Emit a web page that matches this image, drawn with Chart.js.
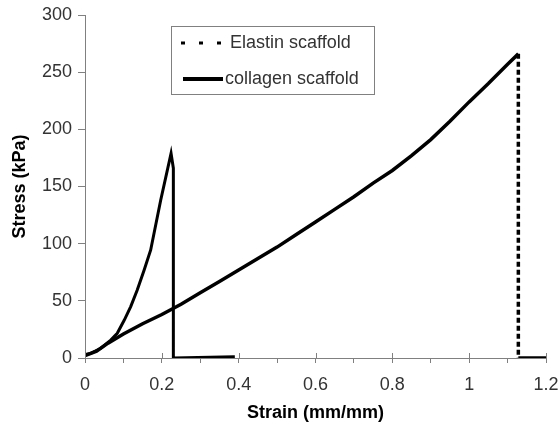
<!DOCTYPE html>
<html>
<head>
<meta charset="utf-8">
<script src="https://cdn.jsdelivr.net/npm/chart.js@4"></script>
<style>
  html, body { margin: 0; padding: 0; background: #fff; }
  #wrap { width: 558px; height: 427px; position: relative; }
</style>
</head>
<body>
<div id="wrap"><canvas id="stressChart"></canvas></div>
<script>
// stress-strain readings (strain in mm/mm, stress in kPa)
const elastinStrain = [0, 0.03, 0.06, 0.1, 0.15, 0.2, 0.25, 0.3, 0.35, 0.4, 0.45, 0.5, 0.55, 0.6, 0.65, 0.7, 0.75, 0.8, 0.85, 0.9, 0.95, 1.0, 1.05, 1.1, 1.128, 1.128, 1.2];
const elastinStress = [2, 6, 13, 21, 30, 38, 47, 57, 67, 77, 87, 97, 108, 119, 130, 141, 153, 164, 177, 191, 207, 224, 240, 257, 266, 0, 0];

const collagenStrain = [0, 0.015, 0.041, 0.067, 0.084, 0.102, 0.119, 0.136, 0.154, 0.171, 0.197, 0.224, 0.23, 0.23, 0.39];
const collagenStress = [3, 4, 8.5, 15.7, 21.6, 33, 45, 59.5, 77, 94.5, 138, 179, 166, 0, 1];

const strainTicks = [0, 0.2, 0.4, 0.6, 0.8, 1, 1.2];
const strainMinorTicks = [0.1, 0.3, 0.5, 0.7, 0.9, 1.1];
const stressTicks = [0, 50, 100, 150, 200, 250, 300];

const seriesLabels = ['Elastin scaffold', 'collagen scaffold'];

const FONT = 'Liberation Sans, Arial, sans-serif';
const AXIS_GREY = '#808080';

function toPoints(xs, ys) {
    return xs.map((x, i) => ({ x: x, y: ys[i] }));
}

// boxed legend sitting inside the plot, plus the upward half of the major strain ticks
const boxLegend = {
    id: 'boxLegend',
    afterDraw(chart) {
        const ctx = chart.ctx;
        const x0 = 171.5, y0 = 26.5, w = 203, h = 68;
        ctx.save();
        ctx.fillStyle = '#fff';
        ctx.fillRect(x0, y0, w, h);
        ctx.strokeStyle = AXIS_GREY;
        ctx.lineWidth = 1;
        ctx.strokeRect(x0, y0, w, h);

        ctx.strokeStyle = '#000';
        // dashed sample
        ctx.lineWidth = 3;
        ctx.setLineDash([4, 14]);
        ctx.beginPath();
        ctx.moveTo(181, 43);
        ctx.lineTo(223, 43);
        ctx.stroke();
        // solid sample
        ctx.setLineDash([]);
        ctx.lineWidth = 4;
        ctx.beginPath();
        ctx.moveTo(183, 79);
        ctx.lineTo(223, 79);
        ctx.stroke();

        ctx.fillStyle = '#333';
        ctx.font = '18px ' + FONT;
        ctx.textBaseline = 'middle';
        ctx.fillText(chart.data.datasets[0].label, 230, 43);
        ctx.fillText(chart.data.datasets[1].label, 225, 79);

        // major x ticks cross the axis line
        const xs = chart.scales.x;
        const bottom = chart.chartArea.bottom;
        ctx.strokeStyle = AXIS_GREY;
        ctx.lineWidth = 1;
        strainTicks.forEach(v => {
            const px = Math.round(xs.getPixelForValue(v)) + 0.5;
            ctx.beginPath();
            ctx.moveTo(px, bottom);
            ctx.lineTo(px, bottom - 5);
            ctx.stroke();
        });
        ctx.restore();
    }
};

new Chart(document.getElementById('stressChart'), {
    type: 'scatter',
    data: {
        datasets: [
            {
                label: seriesLabels[0],
                data: toPoints(elastinStrain, elastinStress),
                showLine: true,
                borderColor: '#000',
                borderWidth: 3.5,
                borderDash: [5, 3],
                pointRadius: 0,
                tension: 0,
                // only the vertical failure drop is dashed
                segment: {
                    borderDash: c => (c.p0.parsed.x === c.p1.parsed.x ? undefined : [])
                }
            },
            {
                label: seriesLabels[1],
                data: toPoints(collagenStrain, collagenStress),
                showLine: true,
                borderColor: '#000',
                borderWidth: 3,
                pointRadius: 0,
                tension: 0
            }
        ]
    },
    options: {
        responsive: true,
        maintainAspectRatio: false,
        animation: false,
        layout: { padding: { top: 15, right: 12, left: 0, bottom: 0 } },
        plugins: {
            legend: { display: false },
            tooltip: { enabled: false }
        },
        scales: {
            x: {
                type: 'linear',
                min: 0,
                max: 1.2,
                afterBuildTicks: scale => {
                    scale.ticks = strainTicks.concat(strainMinorTicks)
                        .sort((a, b) => a - b)
                        .map(v => ({ value: v }));
                },
                afterFit: scale => {
                    scale.height = 69;
                    scale.paddingLeft = 0;
                    scale.paddingRight = 0;
                },
                ticks: {
                    color: '#333',
                    font: { family: FONT, size: 18 },
                    padding: 11,
                    maxRotation: 0,
                    autoSkip: false,
                    callback: v => (strainTicks.includes(v) ? String(v) : '')
                },
                grid: { drawOnChartArea: false, color: AXIS_GREY, tickLength: 5 },
                border: { color: AXIS_GREY },
                title: {
                    display: true,
                    text: 'Strain (mm/mm)',
                    color: '#000',
                    font: { family: FONT, size: 18, weight: 'bold' },
                    padding: { top: 0, bottom: 3 }
                }
            },
            y: {
                min: 0,
                max: 300,
                afterBuildTicks: scale => {
                    scale.ticks = stressTicks.map(v => ({ value: v }));
                },
                afterFit: scale => {
                    scale.width = 85;
                    scale.paddingTop = 0;
                    scale.paddingBottom = 0;
                },
                ticks: {
                    color: '#333',
                    font: { family: FONT, size: 18 },
                    padding: 6
                },
                grid: { drawOnChartArea: false, color: AXIS_GREY, tickLength: 7 },
                border: { color: AXIS_GREY },
                title: {
                    display: true,
                    text: 'Stress (kPa)',
                    color: '#000',
                    font: { family: FONT, size: 18, weight: 'bold' },
                    padding: { top: 9, bottom: 0 }
                }
            }
        }
    },
    plugins: [boxLegend]
});
</script>
</body>
</html>
